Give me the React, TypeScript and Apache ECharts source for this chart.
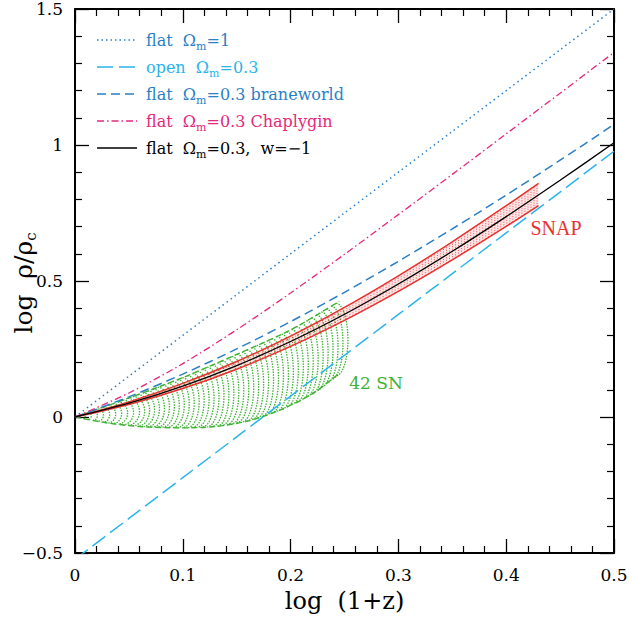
import React, { useEffect, useRef } from "react";
import * as echarts from "echarts";

// ---------- data ----------
const xGrid = [0, 0.05, 0.1, 0.15, 0.2, 0.25, 0.3, 0.35, 0.4, 0.45, 0.5];
const flatOm1 = [0, 0.15, 0.3, 0.45, 0.6, 0.75, 0.9, 1.05, 1.2, 1.35, 1.5];
const openOm03 = [-0.523, -0.373, -0.223, -0.073, 0.077, 0.227, 0.377, 0.527, 0.677, 0.827, 0.977];
const braneworld = [0, 0.0741, 0.1578, 0.2503, 0.3507, 0.4584, 0.5724, 0.6918, 0.8159, 0.944, 1.0756];
const chaplygin = [0, 0.0883, 0.1964, 0.3207, 0.456, 0.5982, 0.7441, 0.892, 1.041, 1.1904, 1.3401];
const lcdm = [0, 0.0507, 0.1135, 0.1891, 0.2775, 0.3779, 0.489, 0.6092, 0.7368, 0.8702, 1.008];

const snapX = [0, 0.05, 0.1, 0.15, 0.2, 0.25, 0.3, 0.35, 0.4, 0.43];
const snapUpper = [0, 0.0557, 0.1235, 0.2041, 0.2975, 0.4029, 0.519, 0.6442, 0.7768, 0.8592];
const snapLower = [0, 0.0462, 0.1045, 0.1756, 0.2595, 0.3554, 0.462, 0.5777, 0.7008, 0.7775];

const snUpperX = [0, 0.05, 0.1, 0.15, 0.2, 0.245];
const snUpperY = [0, 0.07, 0.145, 0.23, 0.32, 0.425];
const snLowerX = [0, 0.03, 0.06, 0.1, 0.13, 0.16, 0.19, 0.22, 0.245];
const snLowerY = [0, -0.022, -0.035, -0.04, -0.035, -0.015, 0.025, 0.085, 0.16];

const xTicks = [0, 0.1, 0.2, 0.3, 0.4, 0.5];
const yTicks = [-0.5, 0, 0.5, 1, 1.5];

// ---------- styles ----------
const C_BLUE = "#2a7fc6";
const C_LBLUE = "#2ab4ec";
const C_PINK = "#e5287c";
const C_RED = "#e8322f";
const C_GREEN = "#3db233";
const SERIF = '"DejaVu Serif", serif';

function interp(xs: number[], ys: number[], x: number) {
  if (x <= xs[0]) return ys[0];
  for (let i = 1; i < xs.length; i++) {
    if (x <= xs[i]) {
      const t = (x - xs[i - 1]) / (xs[i] - xs[i - 1]);
      return ys[i - 1] + t * (ys[i] - ys[i - 1]);
    }
  }
  return ys[ys.length - 1];
}

const pairs = (xs: number[], ys: number[]) => xs.map((x, i) => [x, ys[i]]);

export default function App() {
  const ref = useRef<HTMLDivElement>(null);
  useEffect(() => {
    if (!ref.current) return;
    const chart = echarts.init(ref.current, null, { renderer: "svg" });

    const axisCommon = {
      type: "value" as const,
      axisLine: { show: true, onZero: false, lineStyle: { color: "#000", width: 2 } },
      axisTick: { show: true, inside: true, length: 14, lineStyle: { color: "#000", width: 1.3 } },
      minorTick: { show: true, splitNumber: 5, length: 7, lineStyle: { color: "#000", width: 1.2 } },
      splitLine: { show: false },
    };

    const legendRows = [
      { label: "flat  Ω{s|m}=1", color: C_BLUE, dash: [1.5, 3], w: 1.5 },
      { label: "open  Ω{s|m}=0.3", color: C_LBLUE, dash: [16, 6], w: 1.5 },
      { label: "flat  Ω{s|m}=0.3 braneworld", color: C_BLUE, dash: [9, 5], w: 1.5 },
      { label: "flat  Ω{s|m}=0.3 Chaplygin", color: C_PINK, dash: [7, 3, 1.5, 3], w: 1.3 },
      { label: "flat  Ω{s|m}=0.3,  w=−1", color: "#000", dash: null, w: 1.3 },
    ];
    const legendY = [40, 67, 94, 121, 148];
    const textColors = [C_BLUE, C_LBLUE, C_BLUE, C_PINK, "#000"];
    const graphic: any[] = [];
    legendRows.forEach((r, i) => {
      graphic.push({
        type: "line",
        shape: { x1: 97, y1: legendY[i], x2: 137, y2: legendY[i] },
        style: { stroke: r.color, lineWidth: r.w, lineDash: r.dash || undefined },
      });
      graphic.push({
        type: "text",
        x: 146,
        y: legendY[i],
        style: {
          text: r.label,
          fill: textColors[i],
          font: `16px ${SERIF}`,
          verticalAlign: "middle",
          rich: {
            s: { fontSize: 11, fontFamily: SERIF, fill: textColors[i], padding: [12, 0, 0, 0] },
          },
        },
      });
    });
    graphic.push({
      type: "text",
      x: 556,
      y: 228,
      style: { text: "SNAP", fill: C_RED, font: '20px "Liberation Serif", serif', align: "center", verticalAlign: "middle" },
    });
    graphic.push({
      type: "text",
      x: 376,
      y: 383,
      style: { text: "42 SN", fill: C_GREEN, font: `17px ${SERIF}`, align: "center", verticalAlign: "middle" },
    });
    // y-axis title
    graphic.push({
      type: "text",
      x: 23,
      y: 283,
      rotation: Math.PI / 2,
      style: {
        text: "log  ρ/ρ{s|c}",
        fill: "#000",
        font: `25px ${SERIF}`,
        align: "center",
        verticalAlign: "middle",
        rich: { s: { fontSize: 15, fontFamily: SERIF, fill: "#000", padding: [16, 0, 0, 0] } },
      },
    });

    const lineSeries = (name: string, ys: number[], color: string, type: any, width: number, z: number) => ({
      type: "line",
      name,
      data: pairs(xGrid, ys),
      showSymbol: false,
      smooth: 0.3,
      clip: true,
      z,
      lineStyle: { color, type, width },
    });

    const option: any = {
      animation: false,
      grid: { left: 75, right: 15, top: 9, bottom: 68, containLabel: false, outerBoundsMode: "none" },
      graphic,
      xAxis: [
        {
          ...axisCommon,
          min: 0,
          max: 0.5,
          interval: 0.1,
          position: "bottom",
          name: "log  (1+z)",
          nameLocation: "middle",
          nameGap: 36,
          nameTextStyle: { fontFamily: SERIF, fontSize: 24, color: "#000" },
          axisLabel: {
            margin: 13,
            fontFamily: SERIF,
            fontSize: 17,
            color: "#000",
            formatter: (v: number) => (xTicks.includes(+v.toFixed(2)) ? String(+v.toFixed(2)) : ""),
          },
        },
        {
          ...axisCommon,
          min: 0,
          max: 0.5,
          interval: 0.1,
          position: "top",
          axisLabel: { show: false },
        },
      ],
      yAxis: [
        {
          ...axisCommon,
          min: -0.5,
          max: 1.5,
          interval: 0.5,
          position: "left",
          axisLabel: {
            margin: 12,
            fontFamily: SERIF,
            fontSize: 17,
            color: "#000",
            formatter: (v: number) => {
              const r = +v.toFixed(2);
              return yTicks.includes(r) ? String(r).replace("-", "−") : "";
            },
          },
        },
        {
          ...axisCommon,
          min: -0.5,
          max: 1.5,
          interval: 0.5,
          position: "right",
          axisLabel: { show: false },
        },
      ],
      series: [
        {
          type: "custom",
          name: "42 SN",
          data: [[0, 0]],
          z: 1,
          clip: true,
          renderItem: (params: any, api: any) => {
            const children: any[] = [];
            for (let xc = 0.003; xc <= 0.2452; xc += 0.0046) {
              const top = interp(snUpperX, snUpperY, xc);
              const bot = interp(snLowerX, snLowerY, xc);
              const mid = (top + bot) / 2;
              const h = (top - bot) / 2;
              const a = 0.011 * Math.min(1, h / 0.05);
              const pts: number[][] = [];
              for (let k = 0; k <= 20; k++) {
                const th = Math.PI / 2 - (Math.PI * k) / 20;
                pts.push(api.coord([xc + a * Math.cos(th), mid + h * Math.sin(th)]));
              }
              children.push({
                type: "polyline",
                shape: { points: pts },
                style: { stroke: C_GREEN, fill: null, lineWidth: 1.3, lineDash: [1.5, 1.2] },
              });
            }
            return { type: "group", children };
          },
        },
        {
          type: "line",
          name: "42 SN upper",
          data: pairs(snUpperX, snUpperY),
          showSymbol: false,
          smooth: 0.3,
          z: 1,
          lineStyle: { color: C_GREEN, width: 1.4, type: [6, 3] },
        },
        {
          type: "line",
          name: "42 SN lower",
          data: pairs(snLowerX, snLowerY),
          showSymbol: false,
          smooth: 0.3,
          z: 1,
          lineStyle: { color: C_GREEN, width: 1.4, type: [6, 3] },
        },
        {
          type: "custom",
          name: "SNAP fill",
          data: [[0, 0]],
          z: 2,
          clip: true,
          renderItem: (params: any, api: any) => {
            const children: any[] = [];
            const poly: number[][] = [];
            snapX.forEach((x, i) => poly.push(api.coord([x, snapUpper[i]])));
            for (let i = snapX.length - 1; i >= 0; i--) poly.push(api.coord([snapX[i], snapLower[i]]));
            children.push({ type: "polygon", shape: { points: poly }, style: { fill: "rgba(232,50,47,0.12)", stroke: null } });
            for (let x = 0.003; x <= snapX[snapX.length - 1]; x += 0.0028) {
              const p1 = api.coord([x, interp(snapX, snapLower, x)]);
              const p2 = api.coord([x, interp(snapX, snapUpper, x)]);
              children.push({
                type: "line",
                shape: { x1: p1[0], y1: p1[1], x2: p2[0], y2: p2[1] },
                style: { stroke: C_RED, lineWidth: 0.9, lineDash: [1, 1.5], opacity: 0.9 },
              });
            }
            return { type: "group", children };
          },
        },
        {
          type: "line",
          name: "SNAP upper",
          data: pairs(snapX, snapUpper),
          showSymbol: false,
          smooth: 0.3,
          z: 3,
          lineStyle: { color: C_RED, width: 1.5 },
        },
        {
          type: "line",
          name: "SNAP lower",
          data: pairs(snapX, snapLower),
          showSymbol: false,
          smooth: 0.3,
          z: 3,
          lineStyle: { color: C_RED, width: 1.5 },
        },
        lineSeries("flat Ωm=1", flatOm1, C_BLUE, [1.5, 3.5], 1.5, 4),
        lineSeries("open Ωm=0.3", openOm03, C_LBLUE, [16, 6], 1.5, 4),
        lineSeries("flat Ωm=0.3 braneworld", braneworld, C_BLUE, [9, 5], 1.5, 4),
        lineSeries("flat Ωm=0.3 Chaplygin", chaplygin, C_PINK, [7, 3, 1.5, 3], 1.3, 4),
        lineSeries("flat Ωm=0.3, w=−1", lcdm, "#000", "solid", 1.3, 5),
      ],
    };
    chart.setOption(option);
    return () => chart.dispose();
  }, []);
  return <div ref={ref} style={{ position: "absolute", left: 0, top: 0, width: 629, height: 621 }} />;
}
